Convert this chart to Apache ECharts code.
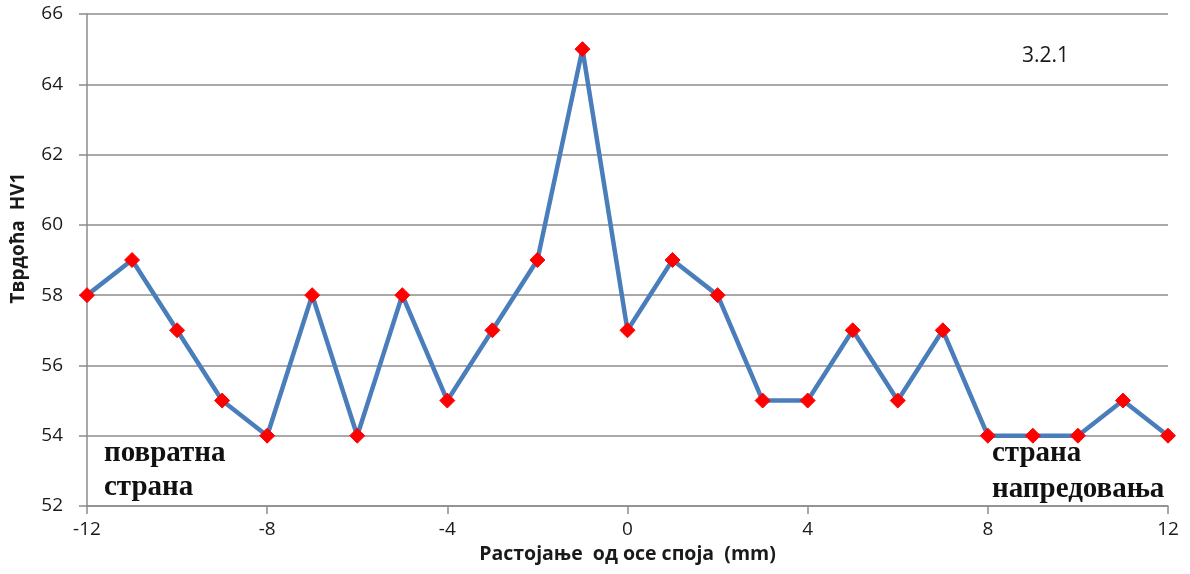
<!DOCTYPE html>
<html><head><meta charset="utf-8">
<script src="https://cdn.jsdelivr.net/npm/echarts@6/dist/echarts.min.js"></script>
<style>html,body{margin:0;padding:0;background:#fff}#c{width:1190px;height:574px}</style>
</head><body><div id="c"></div>
<script>
const xValues = [-12,-11,-10,-9,-8,-7,-6,-5,-4,-3,-2,-1,0,1,2,3,4,5,6,7,8,9,10,11,12];
const hardness = [58,59,57,55,54,58,54,58,55,57,59,65,57,59,58,55,55,57,55,57,54,54,54,55,54];
const xTitle = 'Растојање  од осе споја  (mm)';
const yTitle = 'Тврдоћа  HV1';
const leftNote = ['повратна', 'страна'];
const rightNote = ['страна', 'напредовања'];
const sampleLabel = '3.2.1';

const chart = echarts.init(document.getElementById('c'), null, {renderer:'canvas'});
const data = xValues.map((x,i)=>[x, hardness[i]]);
const lbl = {fontFamily:'"Open Sans", "Noto Sans", sans-serif', fontSize:19, color:'#1a1a1a'};
chart.setOption({
  animation:false,
  grid:{left:87, right:22, top:14, bottom:68},
  xAxis:{type:'value', min:-12, max:12, interval:4,
    axisLine:{onZero:false, lineStyle:{color:'#8c8c8c', width:1.5}},
    axisTick:{show:true, length:8, lineStyle:{color:'#8c8c8c', width:1.5}},
    splitLine:{show:false},
    axisLabel:Object.assign({margin:14}, lbl),
    name:xTitle, nameLocation:'middle', nameGap:38,
    nameTextStyle:{fontFamily:'"Open Sans", "Noto Sans", sans-serif', fontSize:19.5, fontWeight:'bold', color:'#1a1a1a'}
  },
  yAxis:{type:'value', min:52, max:66, interval:2,
    axisLine:{show:true, onZero:false, lineStyle:{color:'#8c8c8c', width:1.5}},
    axisTick:{show:true, length:8, lineStyle:{color:'#8c8c8c', width:1.5}},
    splitLine:{lineStyle:{color:'#8c8c8c', width:1.5}},
    axisLabel:Object.assign({margin:24}, lbl)
  },
  series:[{type:'line', data:data,
    lineStyle:{color:'#4a7ebb', width:4.5},
    symbol:'diamond', symbolSize:15,
    itemStyle:{color:'#ff0000', borderColor:'#ff0000'},
    z:3
  }],
  graphic:[
    {type:'text', x:19, y:238, rotation:Math.PI/2, style:{text:yTitle, font:'bold 19px "Open Sans", "Noto Sans", sans-serif', fill:'#1a1a1a', align:'center', verticalAlign:'middle'}},
    {type:'text', left:104, top:437, style:{text:leftNote.join('\n'), font:'bold 29px "Liberation Serif", "DejaVu Serif", serif', fill:'#111', lineHeight:34}},
    {type:'text', left:992, top:436, style:{text:rightNote.join('\n'), font:'bold 29px "Liberation Serif", "DejaVu Serif", serif', fill:'#111', lineHeight:36}},
    {type:'text', left:1022, top:46, style:{text:sampleLabel, font:'21px "Open Sans", "Noto Sans", sans-serif', fill:'#1a1a1a'}}
  ]
});
</script></body></html>
